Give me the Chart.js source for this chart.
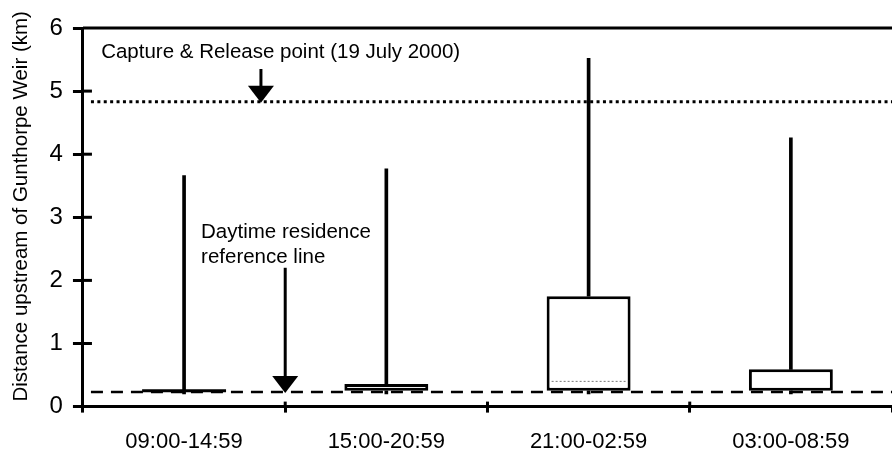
<!DOCTYPE html>
<html>
<head>
<meta charset="utf-8">
<script src="https://cdn.jsdelivr.net/npm/chart.js@4.4.0/dist/chart.umd.min.js"></script>
<style>
  html, body { margin: 0; padding: 0; background: #fff; overflow: hidden; }
  #wrap { width: 892px; height: 464px; }
</style>
</head>
<body>
<div id="wrap"><canvas id="boxChart"></canvas></div>
<script>
// Time-of-day periods and box plot values (km upstream)
const categories = ['09:00-14:59', '15:00-20:59', '21:00-02:59', '03:00-08:59'];
const minValues = [0.2, 0.2, 0.2, 0.2];
const q1Values = [0.25, 0.25, 0.25, 0.25];
const medianValues = [0.25, 0.25, 0.40, 0.25];
const q3Values = [0.25, 0.36, 1.75, 0.59];
const maxValues = [3.66, 3.77, 5.52, 4.26];
const yTicks = [0, 1, 2, 3, 4, 5, 6];

// Reference lines
const daytimeLine = 0.23;
const releasePoint = 4.83;

const FONT = '"Liberation Sans", Arial, Helvetica, sans-serif';
const Y_TITLE = 'Distance upstream of Gunthorpe Weir (km)';

function drawLine(ctx, x1, y1, x2, y2) {
    ctx.beginPath();
    ctx.moveTo(x1, y1);
    ctx.lineTo(x2, y2);
    ctx.stroke();
}

function drawArrow(ctx, x, yStart, yTip) {
    const headH = 17, headW = 26;
    ctx.lineWidth = 3;
    drawLine(ctx, x, yStart, x, yTip - headH + 1);
    ctx.beginPath();
    ctx.moveTo(x - headW / 2, yTip - headH);
    ctx.lineTo(x + headW / 2, yTip - headH);
    ctx.lineTo(x, yTip);
    ctx.closePath();
    ctx.fill();
}

const annotate = {
    id: 'annotate',
    beforeDatasetsDraw(chart) {
        const { ctx, chartArea, scales: { y } } = chart;
        ctx.save();
        ctx.strokeStyle = '#000';
        // daytime residence reference line
        ctx.lineWidth = 2.5;
        ctx.setLineDash([12, 8]);
        const yd = y.getPixelForValue(daytimeLine);
        drawLine(ctx, chartArea.left + 8, yd, chartArea.right, yd);
        // capture & release point
        ctx.lineWidth = 3;
        ctx.setLineDash([3, 3.4]);
        const yr = y.getPixelForValue(releasePoint);
        drawLine(ctx, chartArea.left + 8, yr, chartArea.right, yr);
        ctx.restore();
    },
    afterDatasetsDraw(chart) {
        const { ctx, chartArea, scales: { x, y } } = chart;
        const boxMeta = chart.getDatasetMeta(2);
        ctx.save();
        ctx.strokeStyle = '#000';
        ctx.fillStyle = '#000';

        // medians
        boxMeta.data.forEach((bar, i) => {
            const left = bar.x - bar.width / 2;
            const right = bar.x + bar.width / 2;
            const ym = y.getPixelForValue(medianValues[i]);
            if (q1Values[i] === q3Values[i]) {
                ctx.lineWidth = 3;
                ctx.setLineDash([]);
                drawLine(ctx, left, ym, right, ym);
            } else if (medianValues[i] > q1Values[i] && medianValues[i] < q3Values[i]) {
                ctx.lineWidth = 1;
                ctx.strokeStyle = '#777';
                ctx.setLineDash([2, 2]);
                drawLine(ctx, left + 5, ym, right - 5, ym);
                ctx.strokeStyle = '#000';
            }
        });
        ctx.setLineDash([]);

        // top frame line
        ctx.lineWidth = 3;
        const yTop = y.getPixelForValue(6);
        drawLine(ctx, chartArea.left, yTop, chartArea.right, yTop);

        // inner halves of tick marks
        yTicks.slice(1, -1).forEach(v => {
            const yp = y.getPixelForValue(v);
            drawLine(ctx, chartArea.left, yp, chartArea.left + 9, yp);
        });
        [0.5, 1.5, 2.5].forEach(v => {
            const xp = x.getPixelForValue(v);
            drawLine(ctx, xp, chartArea.bottom, xp, chartArea.bottom - 5);
        });

        // arrows
        drawArrow(ctx, x.getPixelForValue(0.38), y.getPixelForValue(5.35), y.getPixelForValue(releasePoint) + 1);
        drawArrow(ctx, x.getPixelForValue(0.5), y.getPixelForValue(2.2), y.getPixelForValue(daytimeLine) + 1);

        // annotation text
        ctx.font = '20.5px ' + FONT;
        ctx.textAlign = 'left';
        ctx.textBaseline = 'middle';
        ctx.fillText('Capture & Release point (19 July 2000)', x.getPixelForValue(-0.41), y.getPixelForValue(5.62));
        ctx.fillText('Daytime residence', x.getPixelForValue(0.084), y.getPixelForValue(2.76));
        ctx.fillText('reference line', x.getPixelForValue(0.084), y.getPixelForValue(2.37));

        // y axis title, sitting a little above the axis centre as in the original
        ctx.translate(chartArea.left - 62, (chartArea.top + chartArea.bottom) / 2 - 11);
        ctx.rotate(-Math.PI / 2);
        ctx.textAlign = 'center';
        ctx.fillText(Y_TITLE, 0, 0);
        ctx.restore();
    }
};

const ctx = document.getElementById('boxChart').getContext('2d');
new Chart(ctx, {
    type: 'bar',
    data: {
        labels: categories,
        datasets: [
            {
                label: 'Upper whisker',
                data: q3Values.map((q, i) => [q, maxValues[i]]),
                backgroundColor: '#000',
                borderWidth: 0,
                barThickness: 3,
                grouped: false
            },
            {
                label: 'Lower whisker',
                data: minValues.map((m, i) => [m, q1Values[i]]),
                backgroundColor: '#000',
                borderWidth: 0,
                barThickness: 3,
                grouped: false
            },
            {
                label: 'Interquartile range',
                data: q1Values.map((q, i) => [q, q3Values[i]]),
                backgroundColor: '#fff',
                borderColor: '#000',
                borderWidth: 3,
                borderSkipped: false,
                barPercentage: 0.415,
                categoryPercentage: 1,
                grouped: false
            }
        ]
    },
    options: {
        responsive: true,
        maintainAspectRatio: false,
        animation: false,
        layout: {
            padding: { left: 39.6, top: 28, right: 0, bottom: -7 }
        },
        scales: {
            x: {
                offset: true,
                border: { display: true, color: '#000', width: 3 },
                grid: {
                    offset: true,
                    drawOnChartArea: false,
                    color: '#000',
                    lineWidth: 3,
                    tickLength: 6
                },
                ticks: {
                    color: '#000',
                    font: { family: FONT, size: 22 },
                    padding: 16,
                    maxRotation: 0
                }
            },
            y: {
                min: 0,
                max: 6,
                border: { display: true, color: '#000', width: 3 },
                grid: {
                    drawOnChartArea: false,
                    color: '#000',
                    lineWidth: 3,
                    tickLength: 10
                },
                ticks: {
                    stepSize: 1,
                    color: '#000',
                    font: { family: FONT, size: 24 },
                    padding: 10
                }
            }
        },
        plugins: {
            legend: { display: false },
            tooltip: { enabled: false }
        }
    },
    plugins: [annotate]
});
</script>
</body>
</html>
